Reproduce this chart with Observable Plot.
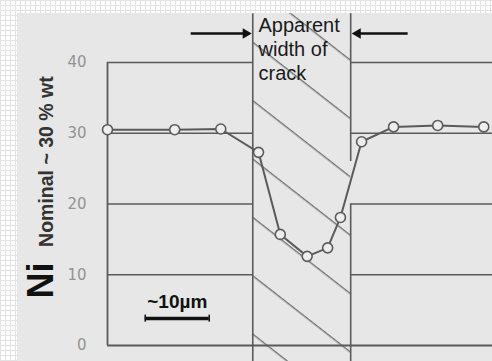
<!DOCTYPE html>
<html>
<head>
<meta charset="utf-8">
<script src="https://cdn.jsdelivr.net/npm/d3@7"></script>
<script src="https://cdn.jsdelivr.net/npm/@observablehq/plot@0.6"></script>
<style>
  html, body { margin: 0; padding: 0; }
  body {
    width: 492px; height: 361px; position: relative; overflow: hidden;
    background-color: #ffffff;
    background-image:
      repeating-linear-gradient(0deg, #e2e2e2 0 1px, transparent 1px 5px),
      repeating-linear-gradient(90deg, #e2e2e2 0 1px, transparent 1px 5px);
  }
  #bg { position: absolute; left: 17px; top: 13px; right: 0; bottom: 0; background: #e7e7e7; }
  #chart { position: absolute; left: 0; top: 0; }
</style>
</head>
<body>
<div id="bg"></div>
<div id="chart"></div>
<script>
// Distance across the crack (µm) and Ni content (% wt)
const distance = [0, 10.5, 17.7, 23.6, 27, 31.2, 34.4, 36.4, 39.7, 44.7, 51.6, 58.8];
const niContent = [30.5, 30.5, 30.6, 27.3, 15.7, 12.6, 13.8, 18.1, 28.8, 30.9, 31.1, 30.9];
const yTicks = [0, 10, 20, 30, 40];
const gridLevels = [10, 20, 30, 40];
const crackEdges = [22.7, 38];          // apparent crack width (µm)
const crackSpan = [-2.3, 46.9];         // vertical extent of the hatched band (% wt units)
const rightEdgeGap = [20, 26];          // gap in the right crack edge
const xMax = 60.16;
const scaleBar = {x1: 5.9, x2: 15.9, y: 3.8, label: "~10µm", labelY: 5.3};
const arrows = [
  {x1: 13, x2: 21.6, y: 44.1, tip: 21.6, rot: 90},
  {x1: 46.9, x2: 39.1, y: 44.1, tip: 39.1, rot: -90}
];
const crackLabel = {x: 23.6, y: 46.7, text: "Apparent\nwidth of\ncrack"};
const yTitle = {x: -10.3, y: 9.2, text: "Ni"};
const ySubTitle = {x: -9.5, y: 26.0, text: "Nominal ~ 30 % wt"};

const data = distance.map((d, i) => ({x: d, y: niContent[i]}));
const leftGrid = gridLevels.map(g => ({y: g, x1: 0, x2: crackEdges[0]}));
const rightGrid = gridLevels.map(g => ({y: g, x1: crackEdges[1], x2: xMax}));
const lineColor = "#5a5a5a";

const chart = Plot.plot({
  width: 492,
  height: 361,
  marginLeft: 107,
  marginRight: 0,
  marginTop: 62,
  marginBottom: 16,
  style: {background: "transparent", overflow: "visible"},
  x: {domain: [0, xMax], axis: null},
  y: {domain: [0, 40], axis: null},
  marks: [
    Plot.rect([{x1: crackEdges[0], x2: crackEdges[1], y1: crackSpan[0], y2: crackSpan[1]}],
      {x1: "x1", x2: "x2", y1: "y1", y2: "y2", fill: "url(#hatch)"}),
    Plot.ruleY(leftGrid, {y: "y", x1: "x1", x2: "x2", stroke: lineColor, strokeWidth: 1.6}),
    Plot.ruleY(rightGrid, {y: "y", x1: "x1", x2: "x2", stroke: lineColor, strokeWidth: 1.6}),
    Plot.ruleY([0], {x1: 0, x2: xMax, stroke: lineColor, strokeWidth: 1.8}),
    Plot.ruleX([0], {y1: 0, y2: 40, stroke: lineColor, strokeWidth: 1.8}),
    Plot.ruleX([crackEdges[0]], {y1: crackSpan[0], y2: crackSpan[1], stroke: lineColor, strokeWidth: 1.6}),
    Plot.ruleX([crackEdges[1]], {y1: rightEdgeGap[1], y2: crackSpan[1], stroke: lineColor, strokeWidth: 1.6}),
    Plot.ruleX([crackEdges[1]], {y1: crackSpan[0], y2: rightEdgeGap[0], stroke: lineColor, strokeWidth: 1.6}),
    Plot.axisY(yTicks, {tickSize: 0, tickPadding: 21, fontSize: 15, color: "#939393", fontFamily: "DejaVu Sans", label: null}),
    Plot.line(data, {x: "x", y: "y", stroke: lineColor, strokeWidth: 2}),
    Plot.dot(data, {x: "x", y: "y", r: 5, fill: "#eeeeee", stroke: lineColor, strokeWidth: 1.6}),
    Plot.link(arrows, {x1: "x1", x2: "x2", y1: "y", y2: "y", stroke: "#111", strokeWidth: 2.5}),
    Plot.dot(arrows, {x: "tip", y: "y", symbol: "triangle2", r: 5, fill: "#111", rotate: "rot"}),
    Plot.ruleY([scaleBar], {y: "y", x1: "x1", x2: "x2", stroke: "#111", strokeWidth: 3.5}),
    Plot.ruleX([scaleBar.x1, scaleBar.x2], {x: d => d, y1: scaleBar.y - 0.5, y2: scaleBar.y + 0.5, stroke: "#111", strokeWidth: 1.5}),
    Plot.text([scaleBar], {x: d => (d.x1 + d.x2) / 2, y: "labelY", text: "label", fontSize: 19, fontWeight: "bold", fontFamily: "Liberation Sans", fill: "#111", lineAnchor: "bottom"}),
    Plot.text([crackLabel], {x: "x", y: "y", text: "text", textAnchor: "start", lineAnchor: "top", lineHeight: 1.2, fontSize: 20, fontFamily: "Liberation Sans", fill: "#1a1a1a"}),
    Plot.text([yTitle], {x: "x", y: "y", text: "text", rotate: -90, fontSize: 36, fontWeight: "bold", fontFamily: "Liberation Sans", fill: "#111"}),
    Plot.text([ySubTitle], {x: "x", y: "y", text: "text", rotate: -90, fontSize: 19.5, fontWeight: "bold", fontFamily: "Liberation Sans", fill: "#333"})
  ]
});

d3.select(chart).insert("defs", ":first-child").html(
  `<pattern id="hatch" patternUnits="userSpaceOnUse" width="20" height="46" patternTransform="rotate(38)">
     <rect width="20" height="46" fill="#e7e7e7"/>
     <line x1="0" y1="15.7" x2="20" y2="15.7" stroke="#6a6a6a" stroke-width="1.3"/>
   </pattern>`
);
document.getElementById("chart").appendChild(chart);
</script>
</body>
</html>
